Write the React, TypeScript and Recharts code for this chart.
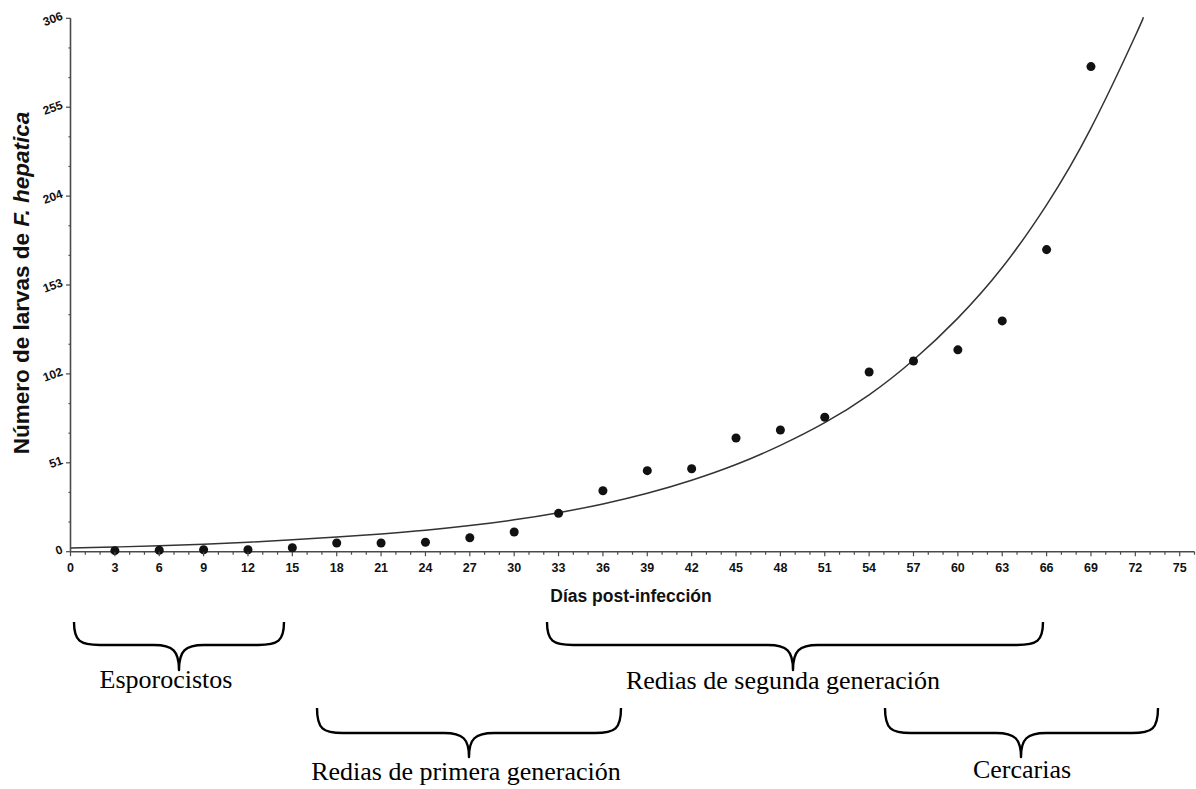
import React from 'react';
import { ComposedChart, Line, Scatter, XAxis, YAxis } from 'recharts';

// Observed larvae counts (días post-infección)
const obsDays = [3, 6, 9, 12, 15, 18, 21, 24, 27, 30, 33, 36, 39, 42, 45, 48, 51, 54, 57, 60, 63, 66, 69];
const obsLarvae = [0.6, 0.8, 1.1, 1.1, 2.3, 5.0, 5.0, 5.4, 8.0, 11.3, 22.0, 35.0, 46.5, 47.6, 65.2, 69.8, 77.1, 103.1, 109.4, 115.8, 132.4, 173.3, 278.3];

// Fitted curve
const fitDays = [0, 3, 6, 9, 12, 15, 18, 21, 24, 27, 30, 33, 36, 39, 42, 45, 48, 51, 54, 57, 60, 63, 66, 69, 72, 72.5];
const fitValues = [2.1, 2.7, 3.4, 4.3, 5.4, 6.8, 8.4, 10.2, 12.3, 15.0, 18.3, 22.4, 27.4, 33.5, 41.0, 50.0, 61.0, 74.0, 90.0, 110.0, 134.0, 163.0, 199.0, 243.0, 296.0, 306.0];

// Axis ticks
const xTickValues = [0, 1, 2, 3, 4, 5, 6, 7, 8, 9, 10, 11, 12, 13, 14, 15, 16, 17, 18, 19, 20, 21, 22, 23, 24, 25, 26, 27, 28, 29, 30, 31, 32, 33, 34, 35, 36, 37, 38, 39, 40, 41, 42, 43, 44, 45, 46, 47, 48, 49, 50, 51, 52, 53, 54, 55, 56, 57, 58, 59, 60, 61, 62, 63, 64, 65, 66, 67, 68, 69, 70, 71, 72, 73, 74, 75, 76];
const xTickLabels = [0, 3, 6, 9, 12, 15, 18, 21, 24, 27, 30, 33, 36, 39, 42, 45, 48, 51, 54, 57, 60, 63, 66, 69, 72, 75];
const yTickValues = [0, 17, 34, 51, 68, 85, 102, 119, 136, 153, 170, 187, 204, 221, 238, 255, 272, 289, 306];
const yTickLabels = [0, 51, 102, 153, 204, 255, 306];

// Brace annotations
const stageNames = ['Esporocistos', 'Redias de primera generación', 'Redias de segunda generación', 'Cercarias'];

const fitData = fitDays.map((d, i) => ({ day: d, value: fitValues[i] }));
const obsData = obsDays.map((d, i) => ({ day: d, value: obsLarvae[i] }));

const W = 1196;
const H = 789;
const AXIS_COLOR = '#4a4a4a';
const SANS = '"Liberation Sans", Arial, Helvetica, sans-serif';
const SERIF = '"Liberation Serif", "Times New Roman", Times, serif';

const XTick = (props: any) => {
  const { x, y, payload } = props;
  const v = payload.value;
  const major = xTickLabels.includes(v);
  return (
    <g>
      <line x1={x} y1={y} x2={x} y2={y + (major ? 4.5 : 3)} stroke={AXIS_COLOR} strokeWidth={1.2} />
      {major && (
        <text x={x} y={y + 20} textAnchor="middle" fontFamily={SANS} fontWeight="bold" fontSize={12.5} fill="#111">
          {v}
        </text>
      )}
    </g>
  );
};

const YTick = (props: any) => {
  const { x, y, payload } = props;
  const v = payload.value;
  const major = yTickLabels.includes(v);
  const tx = x - 7;
  const ty = y + 1;
  return (
    <g>
      <line x1={x - (major ? 4.5 : 2)} y1={y} x2={x} y2={y} stroke={AXIS_COLOR} strokeWidth={1.2} />
      {major && (
        <text
          x={tx}
          y={ty}
          textAnchor="end"
          fontFamily={SANS}
          fontWeight="bold"
          fontSize={12}
          fill="#111"
          transform={`rotate(-20, ${tx}, ${ty})`}
        >
          {v}
        </text>
      )}
    </g>
  );
};

type BraceProps = { x1: number; x2: number; tipX: number; yTop: number; yMid: number; yTip: number };
const Brace = ({ x1, x2, tipX, yTop, yMid, yTip }: BraceProps) => {
  const r = 26;
  const r2 = 25;
  const d = `M ${x1} ${yTop} C ${x1} ${yMid - 4} ${x1 + 6} ${yMid} ${x1 + r} ${yMid} L ${tipX - r2} ${yMid} C ${tipX - 6} ${yMid} ${tipX} ${yMid + 6} ${tipX} ${yTip} C ${tipX} ${yMid + 6} ${tipX + 6} ${yMid} ${tipX + r2} ${yMid} L ${x2 - r} ${yMid} C ${x2 - 6} ${yMid} ${x2} ${yMid - 4} ${x2} ${yTop}`;
  return <path d={d} fill="none" stroke="#000" strokeWidth={2.4} strokeLinejoin="round" />;
};

export default function App() {
  return (
    <div style={{ position: 'absolute', left: 0, top: 0, width: W, height: H, background: '#fff' }}>
      <div style={{ position: 'absolute', left: 0, top: 0 }}>
        <ComposedChart
          width={W}
          height={H}
          data={fitData}
          margin={{ top: 18.3, right: 1.5, left: 0, bottom: 207.3 }}
        >
          <XAxis
            dataKey="day"
            type="number"
            domain={[0, 76]}
            ticks={xTickValues}
            interval={0}
            height={30}
            tickSize={0}
            tickMargin={0}
            tickLine={false}
            tick={<XTick />}
            axisLine={{ stroke: AXIS_COLOR, strokeWidth: 1.6 }}
            allowDecimals
          />
          <YAxis
            type="number"
            domain={[0, 306]}
            ticks={yTickValues}
            interval={0}
            width={70.5}
            tickSize={0}
            tickMargin={0}
            tickLine={false}
            tick={<YTick />}
            axisLine={{ stroke: AXIS_COLOR, strokeWidth: 1.6 }}
          />
          <Line
            dataKey="value"
            type="natural"
            stroke="#333"
            strokeWidth={1.5}
            dot={false}
            activeDot={false}
            isAnimationActive={false}
          />
          <Scatter data={obsData} dataKey="value" fill="#111" isAnimationActive={false} />
        </ComposedChart>
      </div>
      <svg
        width={W}
        height={H}
        style={{ position: 'absolute', left: 0, top: 0, pointerEvents: 'none' }}
      >
        <text
          x={29}
          y={283}
          transform="rotate(-90, 29, 283)"
          textAnchor="middle"
          fontFamily={SANS}
          fontWeight="bold"
          fontSize={22.5}
          fill="#111"
        >
          Número de larvas de <tspan fontStyle="italic">F. hepatica</tspan>
        </text>
        <text x={631} y={602} textAnchor="middle" fontFamily={SANS} fontWeight="bold" fontSize={17.5} fill="#111">
          Días post-infección
        </text>

        <Brace x1={74} x2={284} tipX={179} yTop={622} yMid={645} yTip={670} />
        <Brace x1={547} x2={1043} tipX={793} yTop={622} yMid={645} yTip={670} />
        <Brace x1={317} x2={621} tipX={469} yTop={708} yMid={733} yTip={757} />
        <Brace x1={885} x2={1158} tipX={1021} yTop={708} yMid={733} yTip={757} />

        <text x={166} y={688} textAnchor="middle" fontFamily={SERIF} fontSize={26} fill="#000">{stageNames[0]}</text>
        <text x={466} y={780} textAnchor="middle" fontFamily={SERIF} fontSize={26} fill="#000">{stageNames[1]}</text>
        <text x={783} y={689} textAnchor="middle" fontFamily={SERIF} fontSize={26} fill="#000">{stageNames[2]}</text>
        <text x={1022} y={778} textAnchor="middle" fontFamily={SERIF} fontSize={26} fill="#000">{stageNames[3]}</text>
      </svg>
    </div>
  );
}
